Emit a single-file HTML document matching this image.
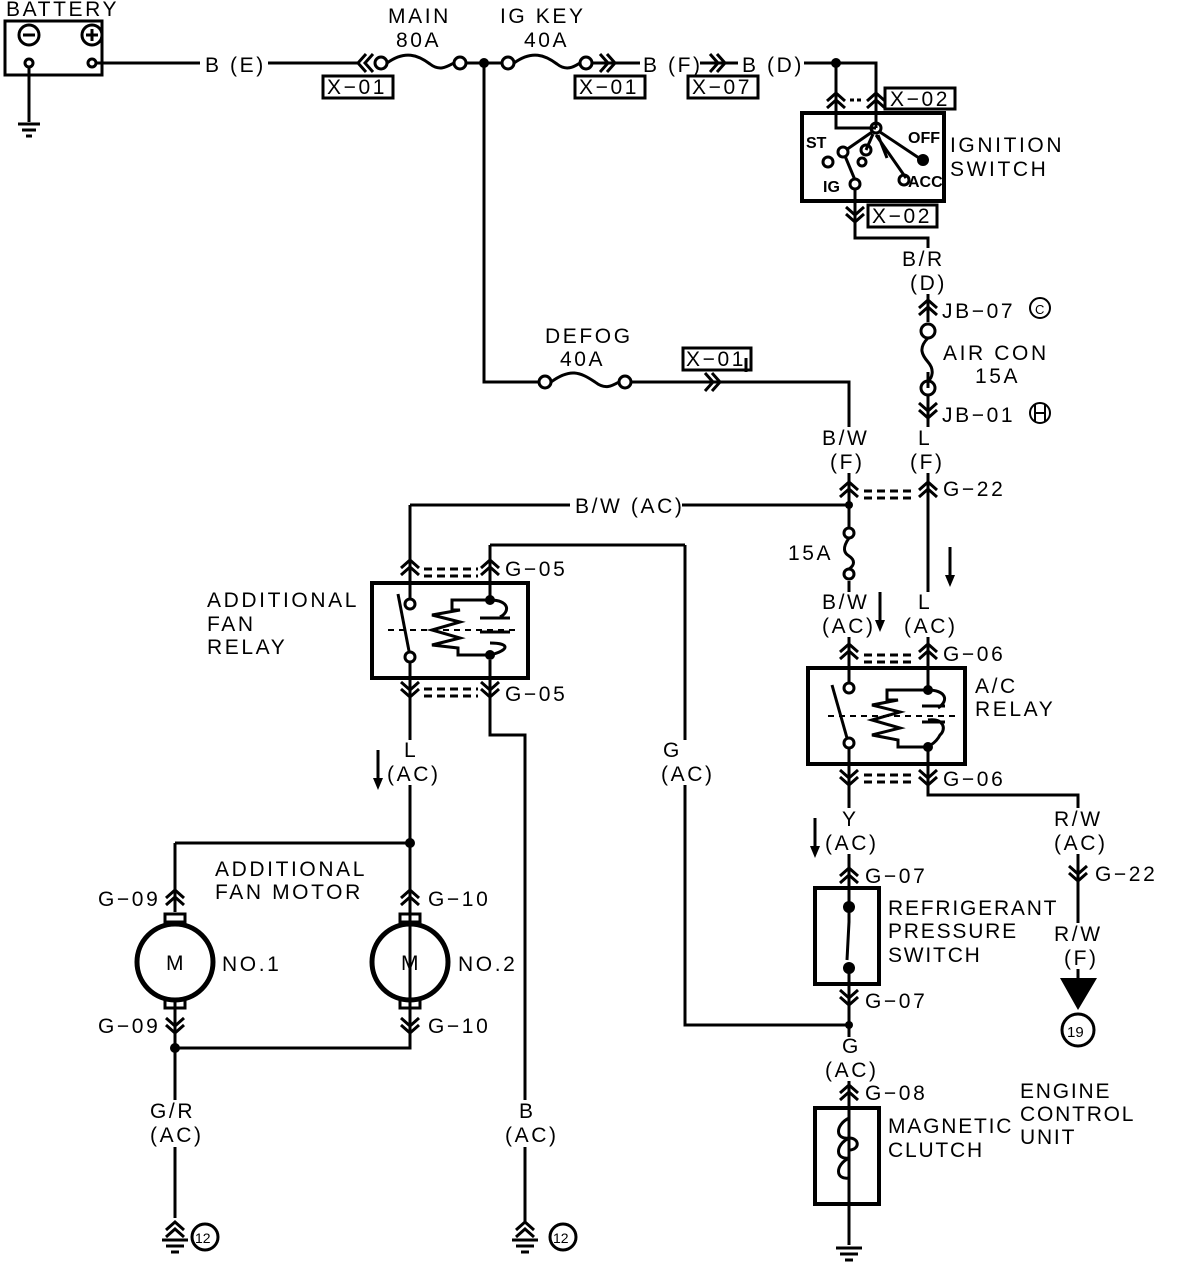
<!DOCTYPE html>
<html><head><meta charset="utf-8"><style>
html,body{margin:0;padding:0;background:#fff}
svg{display:block}
text{font-family:"Liberation Sans",sans-serif;font-size:21px;fill:#000;letter-spacing:2.6px}
.s{font-size:16px;font-weight:bold;letter-spacing:0}
.t{letter-spacing:1.8px}
</style></head><body>
<svg width="1184" height="1270" viewBox="0 0 1184 1270" xmlns="http://www.w3.org/2000/svg">
<defs>
<g id="up" fill="none" stroke="#000" stroke-width="3"><path d="M-9,8 L0,0 L9,8 M-9,15 L0,7 L9,15"/></g>
<g id="dn" fill="none" stroke="#000" stroke-width="3"><path d="M-9,0 L0,8 L9,0 M-9,7 L0,15 L9,7"/></g>
<g id="rt" fill="none" stroke="#000" stroke-width="3"><path d="M0,-9 L8,0 L0,9 M7,-9 L15,0 L7,9"/></g>
<g id="lt" fill="none" stroke="#000" stroke-width="3"><path d="M8,-9 L0,0 L8,9 M15,-9 L7,0 L15,9"/></g>
<g id="gnd" fill="none" stroke="#000" stroke-width="3"><path d="M-13,0 H13 M-9,6 H9 M-4,12 H4"/></g>
<g id="arr"><path d="M0,0 V32" stroke="#000" stroke-width="3"/><path d="M-5,28 L0,40 L5,28 Z" fill="#000"/></g>
</defs>
<g fill="none" stroke="#000" stroke-width="3">
<!-- battery -->
<rect x="5" y="21" width="97" height="54"/>
<circle cx="29" cy="35" r="10"/><path d="M23,35 H35"/>
<circle cx="92" cy="35" r="10"/><path d="M86,35 H98 M92,29 V41"/>
<circle cx="29" cy="63" r="4"/><circle cx="92" cy="63" r="4"/>
<path d="M29,67 V122 M96,63 H270 M270,63 H358"/>
<path d="M18,124 H40 M22,130 H36 M26,136 H32"/>
<circle cx="381" cy="63" r="6"/>
<path d="M387,63 C405,50 418,55 430,64 C440,72 448,66 454,63"/>
<circle cx="460" cy="63" r="6"/>
<path d="M466,63 H502"/>
<circle cx="508" cy="63" r="6"/>
<path d="M514,63 C532,50 545,55 557,64 C567,72 575,66 580,63"/>
<circle cx="586" cy="63" r="6"/>
<path d="M592,63 H700 M700,63 H876 V128"/>
<rect x="323" y="76" width="70" height="22"/>
<rect x="575" y="76" width="70" height="22"/>
<rect x="688" y="76" width="70" height="22"/>
<path d="M836,63 V128 H876"/>
<rect x="885" y="88" width="70" height="21"/>
<rect x="802" y="113" width="142" height="88" stroke-width="4"/>
<circle cx="876" cy="128" r="5"/>
<path d="M880,132 L922,160"/>
<path d="M872,132 L846,150 M873,134 L866,150 M878,135 L887,158 M876,135 L906,178"/>
<circle cx="843" cy="152" r="5"/><circle cx="866" cy="150" r="5"/><circle cx="828" cy="162" r="5"/><circle cx="862" cy="162" r="4"/>
<path d="M845,156 L855,180"/>
<circle cx="855" cy="184" r="5"/><circle cx="904" cy="180" r="5"/>
<path d="M855,189 V238 H928 V290"/>
<rect x="868" y="205" width="69" height="22"/>
<path d="M928,290 V322 M928,372 V388"/>
<circle cx="928" cy="331" r="7"/>
<path d="M928,338 C918,348 922,355 928,362 C935,370 932,378 928,381"/>
<circle cx="928" cy="388" r="7"/>
<path d="M928,395 V490 M928,476 V660"/>
<circle cx="1040" cy="308" r="10" stroke-width="2"/><circle cx="1040" cy="413" r="10" stroke-width="2"/>
<path d="M1035,405 V421 M1045,405 V421 M1035,413 H1045" stroke-width="2"/>
<path d="M484,63 V382 H539"/>
<circle cx="545" cy="382" r="6"/>
<path d="M551,382 C570,368 580,372 595,382 C605,390 612,386 619,382"/>
<circle cx="625" cy="382" r="6"/>
<path d="M631,382 H849 V490"/>
<rect x="683" y="348" width="68" height="22"/>
<path d="M746,358 V372" />
<path d="M849,476 V527 M410,505 H849 M849,581 V660"/>
<circle cx="849" cy="533" r="5"/><circle cx="849" cy="574" r="5"/>
<path d="M849,538 C842,548 844,553 849,556 C855,560 855,565 849,569"/>
<path d="M864,491 H914" stroke-dasharray="8,5"/>
<path d="M864,498 H914" stroke-dasharray="8,5"/>
<path d="M849,640 V684 M928,640 V690"/>
<path d="M864,655 H914 M864,662 H914" stroke-dasharray="8,5"/>
<rect x="808" y="668" width="157" height="96" stroke-width="4"/>
<circle cx="849" cy="688" r="5"/><circle cx="849" cy="743" r="5"/>
<path d="M832,685 L847,738"/>
<path d="M828,716 H955" stroke-dasharray="6,5" stroke-width="2"/>
<path d="M928,690 H887 V700 H898 L872,705 L900,712 L872,720 L900,728 L872,735 L898,740 V747 H928"/>
<path d="M928,690 C945,690 950,700 938,708 M928,720 C945,718 946,730 940,735 C935,745 928,745 928,748"/>
<path d="M922,706 H945 M922,722 H945"/>
<path d="M849,748 V870 M928,748 V795 H1078 V870 M1078,858 V978"/>
<path d="M864,775 H914 M864,782 H914" stroke-dasharray="8,5"/>
<path d="M849,858 V905"/>
<rect x="815" y="888" width="64" height="96" stroke-width="4"/>
<path d="M849,905 L849,922 L847,960 M849,970 V1100 M685,545 V1025 H849 M849,1085 V1245"/>
<rect x="815" y="1108" width="64" height="96" stroke-width="4"/>
<path d="M849,1118 C835,1125 835,1140 849,1138 C835,1145 835,1160 849,1158 C835,1165 835,1180 849,1178 M849,1138 C860,1138 860,1150 849,1150"/>
<circle cx="1078" cy="1030" r="16"/>
<path d="M410,505 V600 M490,545 H685 M490,545 V600"/>
<path d="M424,569 H478 M424,576 H478" stroke-dasharray="8,5"/>
<rect x="372" y="583" width="156" height="95" stroke-width="4"/>
<circle cx="410" cy="604" r="5"/><circle cx="410" cy="657" r="5"/>
<path d="M398,594 L409,651"/>
<path d="M388,630 H515" stroke-dasharray="6,5" stroke-width="2"/>
<path d="M490,600 H452 V610 H460 L432,615 L460,622 L432,630 L460,638 L432,645 L458,648 V655 H490"/>
<path d="M490,600 C510,600 510,612 500,617 M490,643 C510,643 510,650 490,655"/>
<path d="M480,618 H510 M480,632 H510"/>
<path d="M410,662 V1035 M490,660 V735 H525 V1222"/>
<path d="M424,689 H478 M424,696 H478" stroke-dasharray="8,5"/>
<path d="M175,843 H410 M175,843 V912 M175,1000 V1218 M175,1048 H410 V1000"/>
<circle cx="175" cy="962" r="38" stroke-width="5"/>
<circle cx="410" cy="962" r="38" stroke-width="5"/>
<rect x="165" y="914" width="20" height="8"/>
<rect x="400" y="914" width="20" height="8"/>
<rect x="165" y="1000" width="20" height="8"/>
<rect x="400" y="1000" width="20" height="8"/>
<circle cx="205" cy="1237" r="13"/><circle cx="563" cy="1237" r="13"/>
</g>
<!-- label backgrounds (wire gaps) -->
<g fill="#fff">
<rect x="200" y="52" width="68" height="22"/>
<rect x="640" y="52" width="60" height="22"/>
<rect x="738" y="52" width="66" height="22"/>
<rect x="570" y="495" width="112" height="20"/>
<rect x="900" y="248" width="56" height="46"/>
<rect x="818" y="427" width="58" height="46"/>
<rect x="905" y="427" width="45" height="46"/>
<rect x="820" y="592" width="56" height="45"/>
<rect x="902" y="592" width="56" height="45"/>
<rect x="822" y="808" width="56" height="46"/>
<rect x="1052" y="808" width="54" height="46"/>
<rect x="1052" y="923" width="54" height="46"/>
<rect x="822" y="1037" width="56" height="44"/>
<rect x="385" y="740" width="55" height="45"/>
<rect x="660" y="740" width="52" height="45"/>
<rect x="148" y="1100" width="57" height="47"/>
<rect x="503" y="1100" width="55" height="47"/>
</g>
<text x="205" y="72">B (E)</text>
<text x="643" y="72">B (F)</text><text x="742" y="72">B (D)</text>
<text x="902" y="266">B/R</text><text x="910" y="290">(D)</text>
<text x="822" y="445">B/W</text><text x="830" y="469">(F)</text>
<text x="918" y="445">L</text><text x="910" y="469">(F)</text>
<text x="575" y="513">B/W (AC)</text>
<text x="822" y="609">B/W</text><text x="822" y="633">(AC)</text>
<text x="918" y="609">L</text><text x="904" y="633">(AC)</text>
<text x="842" y="826">Y</text><text x="825" y="850">(AC)</text>
<text x="1054" y="826">R/W</text><text x="1054" y="850">(AC)</text>
<text x="1054" y="941">R/W</text><text x="1064" y="965">(F)</text>
<text x="842" y="1053">G</text><text x="825" y="1077">(AC)</text>
<text x="404" y="757">L</text><text x="387" y="781">(AC)</text>
<text x="663" y="757">G</text><text x="661" y="781">(AC)</text>
<text x="150" y="1118">G/R</text><text x="150" y="1142">(AC)</text>
<text x="519" y="1118">B</text><text x="505" y="1142">(AC)</text>
<g fill="#000">
<circle cx="484" cy="63" r="5"/><circle cx="836" cy="63" r="5"/>
<circle cx="923" cy="160" r="6"/>
<circle cx="849" cy="505" r="4"/><circle cx="410" cy="843" r="5"/><circle cx="175" cy="1048" r="5"/>
<circle cx="928" cy="690" r="5"/><circle cx="928" cy="747" r="5"/>
<circle cx="490" cy="600" r="5"/><circle cx="490" cy="655" r="5"/>
<circle cx="849" cy="907" r="6"/><circle cx="849" cy="968" r="6"/>
<circle cx="849" cy="1025" r="4"/>
<path d="M1060,978 H1097 L1078,1010 Z"/>
</g>
<use href="#lt" x="358" y="63"/><use href="#rt" x="600" y="63"/><use href="#rt" x="710" y="63"/>
<use href="#rt" x="705" y="382"/>
<use href="#up" x="836" y="93"/><use href="#up" x="876" y="93"/>
<path d="M850,100 H864" stroke="#000" stroke-width="3" stroke-dasharray="4,3"/>
<use href="#dn" x="855" y="207"/>
<use href="#up" x="928" y="300"/><use href="#dn" x="928" y="403"/>
<use href="#up" x="849" y="482"/><use href="#up" x="928" y="482"/>
<use href="#up" x="849" y="644"/><use href="#up" x="928" y="644"/>
<use href="#dn" x="849" y="770"/><use href="#dn" x="928" y="770"/>
<use href="#dn" x="1078" y="866"/>
<use href="#up" x="849" y="868"/><use href="#dn" x="849" y="990"/>
<use href="#up" x="849" y="1085"/>
<use href="#up" x="410" y="560"/><use href="#up" x="490" y="560"/>
<use href="#dn" x="410" y="682"/><use href="#dn" x="490" y="682"/>
<use href="#up" x="175" y="890"/><use href="#up" x="410" y="890"/>
<use href="#dn" x="175" y="1018"/><use href="#dn" x="410" y="1018"/>
<use href="#up" x="175" y="1222"/><use href="#gnd" x="175" y="1240"/>
<use href="#up" x="525" y="1222"/><use href="#gnd" x="525" y="1240"/>
<use href="#gnd" x="849" y="1248"/>
<use href="#arr" x="950" y="547"/><use href="#arr" x="880" y="592"/>
<use href="#arr" x="815" y="818"/><use href="#arr" x="378" y="750"/>
<text x="6" y="16">BATTERY</text>
<text x="388" y="23">MAIN</text><text x="396" y="47">80A</text>
<text x="500" y="23">IG KEY</text><text x="524" y="47">40A</text>
<text x="327" y="94">X−01</text><text x="579" y="94">X−01</text><text x="692" y="94">X−07</text>
<text x="890" y="106">X−02</text><text x="872" y="223">X−02</text>
<text class="s" x="806" y="148">ST</text><text class="s" x="908" y="143">OFF</text>
<text class="s" x="823" y="192">IG</text><text class="s" x="908" y="187">ACC</text>
<text x="950" y="152">IGNITION</text><text x="950" y="176">SWITCH</text>
<text x="942" y="318">JB−07</text><text x="1035" y="314" style="font-size:13px;letter-spacing:0">C</text>
<text x="943" y="360">AIR CON</text><text x="975" y="383">15A</text>
<text x="942" y="422">JB−01</text>
<text x="545" y="343">DEFOG</text><text x="560" y="366">40A</text>
<text x="686" y="366">X−01</text>
<text x="943" y="496">G−22</text>
<text x="788" y="560">15A</text>
<text x="943" y="661">G−06</text><text x="943" y="786">G−06</text>
<text x="975" y="693">A/C</text><text x="975" y="716">RELAY</text>
<text x="1095" y="881">G−22</text>
<text x="1067" y="1037" style="font-size:15px;letter-spacing:0">19</text>
<text x="865" y="883">G−07</text><text x="865" y="1008">G−07</text>
<text class="t" x="888" y="915">REFRIGERANT</text><text class="t" x="888" y="938">PRESSURE</text><text class="t" x="888" y="962">SWITCH</text>
<text x="865" y="1100">G−08</text>
<text class="t" x="888" y="1133">MAGNETIC</text><text class="t" x="888" y="1157">CLUTCH</text>
<text class="t" x="1020" y="1098">ENGINE</text><text class="t" x="1020" y="1121">CONTROL</text><text class="t" x="1020" y="1144">UNIT</text>
<text x="505" y="576">G−05</text><text x="505" y="701">G−05</text>
<text x="207" y="607">ADDITIONAL</text><text x="207" y="631">FAN</text><text x="207" y="654">RELAY</text>
<text x="215" y="876">ADDITIONAL</text><text x="215" y="899">FAN MOTOR</text>
<text x="98" y="906">G−09</text><text x="428" y="906">G−10</text>
<text x="98" y="1033">G−09</text><text x="428" y="1033">G−10</text>
<text x="166" y="970">M</text><text x="401" y="970">M</text>
<text x="222" y="971">NO.1</text><text x="458" y="971">NO.2</text>
<text x="195" y="1243" style="font-size:14px;letter-spacing:0">12</text>
<text x="553" y="1243" style="font-size:14px;letter-spacing:0">12</text>
</svg>
</body></html>
